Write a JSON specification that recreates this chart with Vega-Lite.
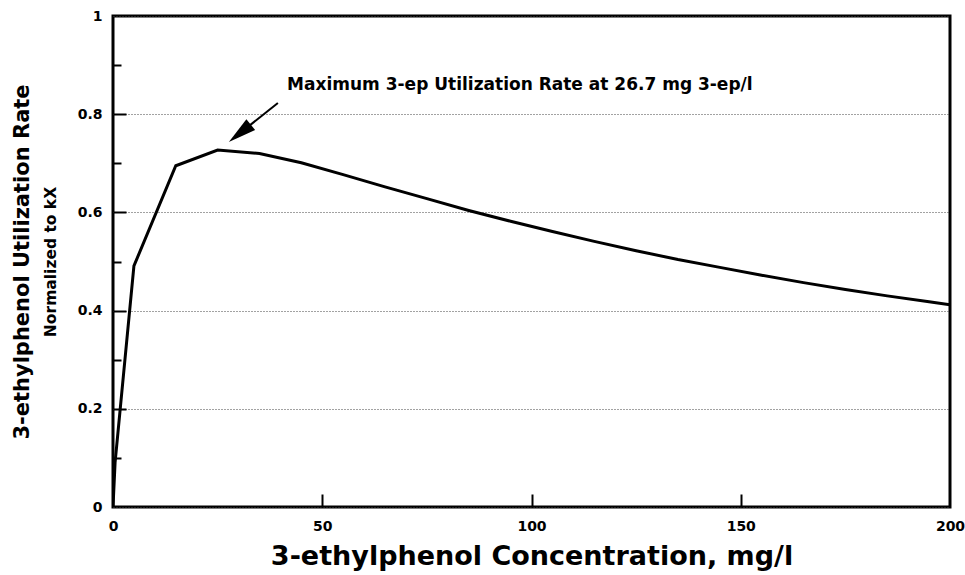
{
  "$schema": "https://vega.github.io/schema/vega-lite/v6.json",
  "width": 837,
  "height": 491,
  "autosize": {"type": "none"},
  "padding": {"left": 113, "top": 16, "right": 15, "bottom": 68},
  "background": "white",
  "datasets": {
    "curve": [
      {"x": 0, "y": 0},
      {"x": 0.5, "y": 0.091},
      {"x": 5, "y": 0.491},
      {"x": 15, "y": 0.695},
      {"x": 25, "y": 0.727},
      {"x": 35, "y": 0.72},
      {"x": 45, "y": 0.701},
      {"x": 55, "y": 0.677},
      {"x": 65, "y": 0.652},
      {"x": 75, "y": 0.628},
      {"x": 85, "y": 0.604},
      {"x": 95, "y": 0.582},
      {"x": 105, "y": 0.561},
      {"x": 115, "y": 0.541},
      {"x": 125, "y": 0.522},
      {"x": 135, "y": 0.504},
      {"x": 145, "y": 0.488},
      {"x": 155, "y": 0.472},
      {"x": 165, "y": 0.457},
      {"x": 175, "y": 0.443},
      {"x": 185, "y": 0.43},
      {"x": 195, "y": 0.418},
      {"x": 200, "y": 0.412}
    ],
    "note": [{"x": 41.6, "y": 0.849, "label": "Maximum 3-ep Utilization Rate at 26.7 mg 3-ep/l"}],
    "arrow": [{"x": 39.4, "y": 0.823, "x2": 30.3, "y2": 0.761}],
    "head": [{"x": 30.3, "y": 0.761}]
  },
  "config": {
    "view": {"stroke": "black", "strokeWidth": 3},
    "axis": {
      "labelFont": "DejaVu Sans",
      "labelFontWeight": "bold",
      "labelFontSize": 14,
      "labelColor": "black",
      "titleFont": "DejaVu Sans",
      "titleFontWeight": "bold",
      "titleColor": "black",
      "domain": false,
      "tickColor": "black",
      "tickWidth": 2
    }
  },
  "layer": [
    {
      "data": {"name": "curve"},
      "mark": {"type": "line", "color": "black", "strokeWidth": 3, "clip": true},
      "encoding": {
        "x": {
          "field": "x", "type": "quantitative",
          "scale": {"domain": [0, 200], "nice": false},
          "axis": {
            "orient": "bottom", "values": [0, 50, 100, 150, 200], "ticks": false, "grid": false,
            "labelPadding": 12, "labelFlush": false,
            "title": "3-ethylphenol Concentration, mg/l", "titleFontSize": 27, "titlePadding": 10
          }
        },
        "y": {
          "field": "y", "type": "quantitative",
          "scale": {"domain": [0, 1], "nice": false},
          "axis": {
            "orient": "left", "values": [0, 0.2, 0.4, 0.6, 0.8, 1], "ticks": false,
            "grid": true, "gridDash": [1, 2], "gridColor": "#444", "gridWidth": 1,
            "labelPadding": 11, "labelFlush": false,
            "labelExpr": "format(datum.value, '~g')",
            "title": "Normalized to kX", "titleFontSize": 15.5, "titlePadding": 19
          }
        }
      }
    },
    {
      "data": {"name": "note"},
      "mark": {"type": "text", "align": "left", "baseline": "alphabetic", "font": "DejaVu Sans", "fontWeight": "bold", "fontSize": 17, "color": "black"},
      "encoding": {
        "x": {"field": "x", "type": "quantitative", "scale": {"domain": [0, 200], "nice": false}, "axis": null},
        "y": {
          "field": "y", "type": "quantitative",
          "scale": {"domain": [0, 1], "nice": false},
          "axis": {
            "orient": "left", "labels": false, "ticks": false, "grid": false,
            "title": "3-ethylphenol Utilization Rate", "titleFontSize": 21, "titlePadding": 81
          }
        },
        "text": {"field": "label"}
      }
    },
    {
      "data": {"name": "arrow"},
      "mark": {"type": "rule", "color": "black", "strokeWidth": 2},
      "encoding": {
        "x": {
          "field": "x", "type": "quantitative",
          "scale": {"domain": [0, 200], "nice": false},
          "axis": {"orient": "bottom", "values": [50, 100, 150], "labels": false, "tickSize": -13, "grid": false, "title": null}
        },
        "x2": {"field": "x2"},
        "y": {
          "field": "y", "type": "quantitative",
          "scale": {"domain": [0, 1], "nice": false},
          "axis": {"orient": "left", "values": [0.2, 0.4, 0.6, 0.8], "labels": false, "tickSize": -13, "grid": false, "title": null}
        },
        "y2": {"field": "y2"}
      }
    },
    {
      "data": {"name": "head"},
      "mark": {"type": "point", "shape": "M0,-1L0.5,1L-0.5,1Z", "size": 784, "angle": 231.5, "filled": true, "color": "black", "opacity": 1, "strokeWidth": 0},
      "encoding": {
        "x": {"field": "x", "type": "quantitative", "scale": {"domain": [0, 200], "nice": false}, "axis": null},
        "y": {
          "field": "y", "type": "quantitative",
          "scale": {"domain": [0, 1], "nice": false},
          "axis": {"orient": "left", "values": [0.1, 0.3, 0.5, 0.7, 0.9], "labels": false, "tickSize": -8, "grid": false, "title": null}
        }
      }
    }
  ],
  "resolve": {"scale": {"x": "independent", "y": "independent"}}
}
